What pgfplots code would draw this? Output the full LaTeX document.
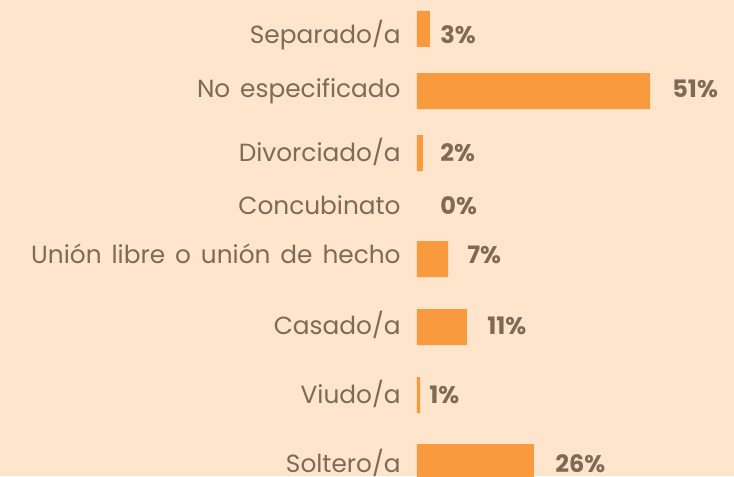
\documentclass[border=0pt]{standalone}
\usepackage{fontspec}
\setmainfont{Poppins}[WordSpace=1.5]
\usepackage{pgfplots}
\pgfplotsset{compat=1.18}
\usepackage{pgfplotstable}
\usetikzlibrary{backgrounds}
\definecolor{bg}{HTML}{FEE5CC}
\definecolor{barc}{HTML}{F99A3F}
\definecolor{txt}{HTML}{7E6A55}

% y = position of each bar (top to bottom), val = share in % (Concubinato = 0, no bar)
\pgfplotstableread{
y   val
29  2.8
91  51.0
153 1.3
259 6.8
327 10.9
395 0.7
462 25.6
}\bars

% value labels (y = baseline)
\pgfplotstableread{
x     y   lab
5.03  44  3
55.8  97  51
5.03  161 2
5.03  214 0
10.94 263 7
15.3  334 11
2.63  403 1
30.2  472 26
}\labs

\begin{document}
\begin{tikzpicture}
\begin{axis}[
    scale only axis, width=158.5pt, height=238pt,
    xmin=0, xmax=69.37, ymin=0, ymax=476, y dir=reverse,
    axis line style={draw=none}, major tick length=0pt,
    xtick=\empty,
    ytick={44,97,161,214,263,334,403,472},
    yticklabels={Separado/a, No especificado, Divorciado/a, Concubinato,
      Unión libre o unión de hecho, Casado/a, Viudo/a, Soltero/a},
    yticklabel style={font=\fontsize{12.4}{14}\selectfont, text=txt,
      inner sep=0pt, anchor=base east, xshift=-8pt},
    clip=false,
    bar width=36,
]
\addplot[xbar, fill=barc, draw=none] table[x=val, y=y]{\bars};
\addplot[draw=none, mark=none, nodes near coords={\textbf{\pgfplotspointmeta\%}},
    point meta=explicit symbolic,
    nodes near coords style={anchor=base west, inner sep=0pt, text=txt,
      font=\fontsize{12}{14}\selectfont}]
    table[x=x, y=y, meta=lab]{\labs};
\coordinate (A) at (axis cs:-91.25,0);
\coordinate (B) at (axis cs:69.37,476);
\end{axis}
\begin{scope}[on background layer]
\fill[bg] (A) rectangle (B);
\end{scope}
\pgfresetboundingbox
\useasboundingbox (A) rectangle (B);
\end{tikzpicture}
\end{document}
